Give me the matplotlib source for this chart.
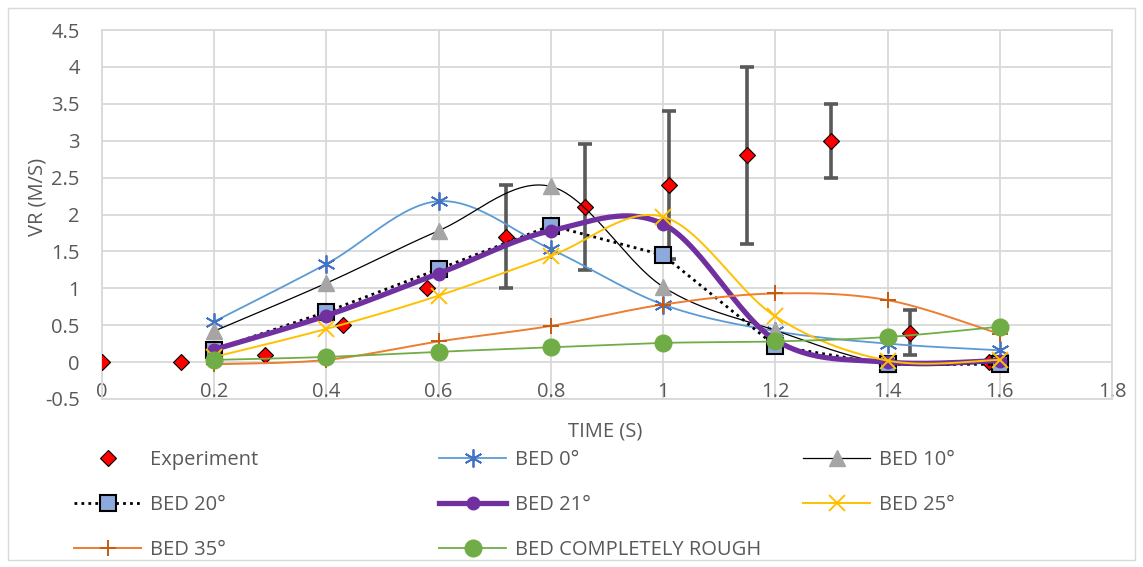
import matplotlib
matplotlib.use("Agg")
import matplotlib.pyplot as plt
import numpy as np
from matplotlib.lines import Line2D
from matplotlib.patches import Rectangle

plt.rcParams["font.family"] = ["Open Sans", "DejaVu Sans"]

# ---- data ----
exp_t = [0.0, 0.14, 0.29, 0.43, 0.58, 0.72, 0.86, 1.01, 1.15, 1.30, 1.44, 1.58]
exp_v = [0.0, 0.0, 0.1, 0.5, 1.0, 1.7, 2.1, 2.4, 2.8, 3.0, 0.4, 0.0]
exp_err = [0, 0, 0, 0, 0, 0.7, 0.85, 1.0, 1.2, 0.5, 0.3, 0]

t_sim = [0.2, 0.4, 0.6, 0.8, 1.0, 1.2, 1.4, 1.6]
bed_0 = [0.55, 1.33, 2.18, 1.53, 0.78, 0.42, 0.25, 0.16]
bed_10 = [0.42, 1.07, 1.78, 2.38, 1.02, 0.43, -0.02, 0.0]
bed_20 = [0.17, 0.68, 1.26, 1.85, 1.45, 0.22, -0.03, -0.03]
bed_21 = [0.17, 0.63, 1.20, 1.78, 1.87, 0.30, 0.0, 0.02]
bed_25 = [0.07, 0.45, 0.90, 1.44, 1.97, 0.62, 0.02, 0.03]
bed_35 = [-0.03, 0.03, 0.28, 0.49, 0.78, 0.93, 0.84, 0.38]
bed_rough = [0.03, 0.07, 0.14, 0.20, 0.26, 0.28, 0.34, 0.48]

GRID = "#D9D9D9"
TXT = "#595959"
FS = 14.5


def smooth(x, y, n=30):
    # Excel-style smoothed line: cubic Bezier with Catmull-Rom control points
    p = np.column_stack([x, y]).astype(float)
    p = np.vstack([p[0], p, p[-1]])
    out = []
    for i in range(1, len(p) - 2):
        p0, p1, p2, p3 = p[i - 1], p[i], p[i + 1], p[i + 2]
        c1 = p1 + (p2 - p0) / 6.0
        c2 = p2 - (p3 - p1) / 6.0
        s = np.linspace(0, 1, n)[:, None]
        seg = ((1 - s) ** 3 * p1 + 3 * (1 - s) ** 2 * s * c1
               + 3 * (1 - s) * s ** 2 * c2 + s ** 3 * p2)
        out.append(seg if i == 1 else seg[1:])
    out = np.vstack(out)
    return out[:, 0], out[:, 1]


fig = plt.figure(figsize=(11.43, 5.67), dpi=100)
fig.patches.append(Rectangle((8 / 1143, 7 / 567), 1127 / 1143, 552 / 567,
                             transform=fig.transFigure, fill=False,
                             edgecolor=GRID, lw=1.0))
ax = fig.add_axes([102 / 1143, 1 - 399 / 567, 1010 / 1143, 369 / 567])

# experiment (drawn first, as in the source)
ax.errorbar(exp_t, exp_v, yerr=[e if e else np.nan for e in exp_err],
            fmt="none", ecolor="#595959", elinewidth=2.6, capsize=5,
            capthick=2.6, zorder=2)
ax.plot(exp_t, exp_v, ls="none", marker="D", ms=8.5, mfc="#FF0000",
        mec="black", mew=0.8, zorder=3)

series = [
    ("BED 0°", bed_0, dict(color="#5B9BD5", lw=1.3), dict(marker=(6, 2, 0), ms=13, mec="#4472C4", mfc="none", mew=1.3), True),
    ("BED 10°", bed_10, dict(color="black", lw=0.9), dict(marker="^", ms=11, mec="#A5A5A5", mfc="#A5A5A5"), True),
    ("BED 20°", bed_20, dict(color="black", lw=2.0, ls=(0, (1, 1.5))), dict(marker="s", ms=12, mec="black", mfc="#8EA9DB", mew=1.5), False),
    ("BED 21°", bed_21, dict(color="#7030A0", lw=3.8), dict(marker="o", ms=9, mec="#7030A0", mfc="#7030A0"), True),
    ("BED 25°", bed_25, dict(color="#FFC000", lw=1.4), dict(marker="x", ms=12, mec="#FFC000", mew=1.4), True),
    ("BED 35°", bed_35, dict(color="#ED7D31", lw=1.4), dict(marker="+", ms=12, mec="#C55A11", mew=1.4), True),
    ("BED COMPLETELY ROUGH", bed_rough, dict(color="#70AD47", lw=1.3), dict(marker="o", ms=12, mec="#70AD47", mfc="#70AD47"), True),
]

handles = {"Experiment": Line2D([], [], ls="none", marker="D", ms=8.5, mfc="#FF0000", mec="black", mew=0.8)}
for k, (name, vals, lkw, mkw, is_smooth) in enumerate(series):
    z = 4 + k
    if is_smooth:
        sx, sy = smooth(t_sim, vals)
    else:
        sx, sy = t_sim, vals
    ax.plot(sx, sy, zorder=z, **lkw)
    ax.plot(t_sim, vals, ls="none", zorder=z, **mkw)
    handles[name] = Line2D([], [], **lkw, **mkw)

ax.set_xlim(0, 1.8)
ax.set_ylim(-0.5, 4.5)
ax.set_xticks(np.arange(0, 1.81, 0.2))
ax.set_xticklabels(["0", "0.2", "0.4", "0.6", "0.8", "1", "1.2", "1.4", "1.6", "1.8"])
ax.set_yticks(np.arange(-0.5, 4.51, 0.5))
ax.set_yticklabels(["-0.5", "0", "0.5", "1", "1.5", "2", "2.5", "3", "3.5", "4", "4.5"])
ax.grid(True, color=GRID, lw=1.3)
ax.set_axisbelow(True)
for s in ax.spines.values():
    s.set_color(GRID)
    s.set_linewidth(1.3)
ax.tick_params(axis="both", length=0, labelsize=FS, labelcolor=TXT)
ax.tick_params(axis="y", pad=16)
ax.tick_params(axis="x", pad=-12)

fig.text(37 / 1143, 1 - 197 / 567, "VR (M/S)", rotation=90, ha="center",
         va="center", fontsize=FS, color=TXT)
fig.text(605 / 1143, 1 - 432 / 567, "TIME (S)", ha="center", va="center",
         fontsize=FS, color=TXT)

# legend: three columns, filled row by row like the source
em = FS * 100 / 72.0
columns = [
    (74, ["Experiment", "BED 20°", "BED 35°"]),
    (439, ["BED 0°", "BED 21°", "BED COMPLETELY ROUGH"]),
    (803, ["BED 10°", "BED 25°"]),
]
for x0, names in columns:
    fig.legend([handles[n] for n in names], names, loc="upper left",
               bbox_to_anchor=(x0 / 1143, 1 - 450 / 567), frameon=False,
               fontsize=FS, labelcolor=TXT, handlelength=67 / em,
               handletextpad=9 / em, labelspacing=(47 - em * 1.1) / em,
               borderpad=0, borderaxespad=0)

fig.savefig("out.png", dpi=100)
